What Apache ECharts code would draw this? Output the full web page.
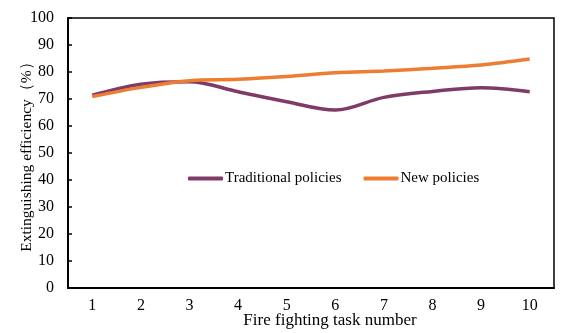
<!DOCTYPE html>
<html><head><meta charset="utf-8">
<script src="https://cdn.jsdelivr.net/npm/echarts@6/dist/echarts.min.js"></script>
<style>html,body{margin:0;padding:0;background:#fff}#c{width:576px;height:333px}</style>
</head><body><div id="c"></div>
<script>
const categories = ['1','2','3','4','5','6','7','8','9','10'];
const traditional = [71.4, 75.5, 76.4, 72.7, 69.0, 65.9, 70.6, 72.8, 74.2, 72.7];
const newPolicies = [70.9, 74.3, 76.8, 77.3, 78.3, 79.7, 80.4, 81.4, 82.6, 84.8];
const seriesNames = ['Traditional policies', 'New policies'];
const font = '"Liberation Serif", "Times New Roman", serif';
const chart = echarts.init(document.getElementById('c'));
chart.setOption({
  backgroundColor: '#fff',
  animation: false,
  grid: {left: 68, right: 22, top: 18, bottom: 45, show: true, borderColor: '#000', borderWidth: 1.5,
         containLabel: false, outerBoundsMode: 'none'},
  legend: {
    data: seriesNames, top: 171, left: 188, padding: 0, itemWidth: 35, itemHeight: 4, itemGap: 22,
    icon: 'roundRect',
    textStyle: {fontFamily: font, fontSize: 15, color: '#000', padding: [0,0,0,-3]}
  },
  xAxis: {
    type: 'category', data: categories, boundaryGap: true,
    name: 'Fire fighting task number', nameLocation: 'middle', nameGap: 24, nameMoveOverlap: false,
    nameTextStyle: {fontFamily: font, fontSize: 17, color: '#000', padding: [0,0,0,38]},
    axisLine: {lineStyle: {color: '#000', width: 2}},
    axisTick: {inside: true, length: 4, lineStyle: {color: '#000', width: 1.5}},
    axisLabel: {fontFamily: font, fontSize: 16, color: '#000', margin: 10}
  },
  yAxis: {
    type: 'value', min: 0, max: 100, interval: 10,
    name: 'Extinguishing efficiency（%）', nameLocation: 'middle', nameGap: 33, nameMoveOverlap: false,
    nameTextStyle: {fontFamily: font, fontSize: 15.5, color: '#000'},
    axisLine: {show: true, lineStyle: {color: '#000', width: 2}},
    axisTick: {show: true, inside: true, length: 4, lineStyle: {color: '#000', width: 1.5}},
    axisLabel: {fontFamily: font, fontSize: 16, color: '#000', margin: 14},
    splitLine: {show: false}
  },
  series: [
    {name: seriesNames[0], type: 'line', data: traditional, smooth: 0.35, showSymbol: false,
     lineStyle: {color: '#7F3A67', width: 3.5}, itemStyle: {color: '#7F3A67'}},
    {name: seriesNames[1], type: 'line', data: newPolicies, smooth: 0.35, showSymbol: false,
     lineStyle: {color: '#ED7D31', width: 3.5}, itemStyle: {color: '#ED7D31'}}
  ]
});
</script></body></html>
